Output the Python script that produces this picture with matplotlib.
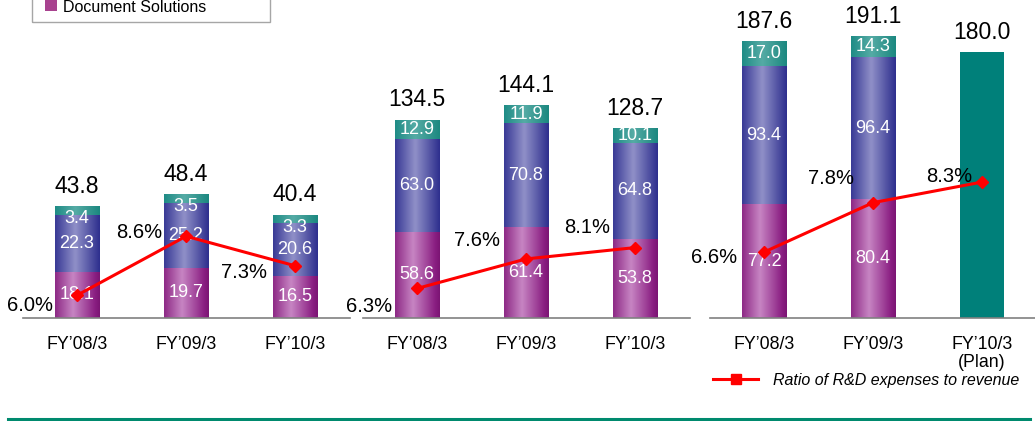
import numpy as np
import matplotlib
matplotlib.use("Agg")
import matplotlib.pyplot as plt
from matplotlib.colors import LinearSegmentedColormap
from matplotlib.patches import Rectangle
from matplotlib.lines import Line2D

plt.rcParams['font.family'] = ['Liberation Sans', 'DejaVu Sans']

W, H = 1035, 421

# data
years = ['FY’08/3', 'FY’09/3', 'FY’10/3']
years_plan = ['FY’08/3', 'FY’09/3', 'FY’10/3\n(Plan)']

p1_doc = [18.1, 19.7, 16.5]
p1_mid = [22.3, 25.2, 20.6]
p1_top = [3.4, 3.5, 3.3]
p1_total = [43.8, 48.4, 40.4]
p1_ratio = [6.0, 8.6, 7.3]

p2_doc = [58.6, 61.4, 53.8]
p2_mid = [63.0, 70.8, 64.8]
p2_top = [12.9, 11.9, 10.1]
p2_total = [134.5, 144.1, 128.7]
p2_ratio = [6.3, 7.6, 8.1]

p3_doc = [77.2, 80.4]
p3_mid = [93.4, 96.4]
p3_top = [17.0, 14.3]
p3_plan = [180.0]
p3_total = [187.6, 191.1, 180.0]
p3_ratio = [6.6, 7.8, 8.3]

# gradient colours of the bars
cm_doc = LinearSegmentedColormap.from_list('doc', [(0, '#8E2A86'), (0.4, '#C785C3'), (0.9, '#8A1E82'), (1, '#7C1574')])
cm_mid = LinearSegmentedColormap.from_list('mid', [(0, '#393A96'), (0.45, '#9090C8'), (1, '#2E2F8E')])
cm_top = LinearSegmentedColormap.from_list('top', [(0, '#1F8C86'), (0.45, '#55ABA5'), (1, '#1C8880')])


def fx(x):
    return x / W


def fy(y):
    return 1 - y / H


def grad_bars(ax, bars, cmap):
    g = np.linspace(0, 1, 64).reshape(1, -1)
    for b in bars:
        x0, y0 = b.get_x(), b.get_y()
        w, h = b.get_width(), b.get_height()
        im = ax.imshow(g, cmap=cmap, extent=(x0, x0 + w, y0, y0 + h), aspect='auto',
                       interpolation='bicubic', zorder=2)
        im.set_clip_path(b)


fig = plt.figure(figsize=(W / 100, H / 100), dpi=100)

base = 318   # baseline pixel row
width = 0.41

panels = [
    dict(left=22.5, ylim=124.2, rlim=(5, 19), labels=years, doc=p1_doc, mid=p1_mid, top=p1_top,
         total=p1_total, ratio=p1_ratio, off=[(-24, -10), (-24, 4), (-28, -7)], topshift=-6),
    dict(left=362.5, ylim=215.5, rlim=(5, 19), labels=years, doc=p2_doc, mid=p2_mid, top=p2_top,
         total=p2_total, ratio=p2_ratio, off=[(-25, -18), (-26, 18), (-25, 20)], topshift=0),
    dict(left=709.5, ylim=215.5, rlim=(5, 12.72), labels=years_plan, doc=p3_doc, mid=p3_mid, top=p3_top,
         total=p3_total, ratio=p3_ratio, off=[(-27, -5), (-19, 24), (-10, 6)], topshift=0),
]

for p in panels:
    ax = fig.add_axes([fx(p['left']), fy(base), 327 / W, base / H])
    ax.patch.set_alpha(0)
    n = len(p['doc'])
    x = np.arange(n)
    doc = np.array(p['doc'])
    mid = np.array(p['mid'])
    top = np.array(p['top'])

    b1 = ax.bar(x, doc, width, color='#A0409A', zorder=2, linewidth=0)
    b2 = ax.bar(x, mid, width, bottom=doc, color='#5A5AAA', zorder=2, linewidth=0)
    b3 = ax.bar(x, top, width, bottom=doc + mid, color='#2A9A90', zorder=2, linewidth=0)
    grad_bars(ax, b1, cm_doc)
    grad_bars(ax, b2, cm_mid)
    grad_bars(ax, b3, cm_top)

    if p['labels'] is years_plan:
        ax.bar([2], p3_plan, width, color='#00807A', zorder=2, linewidth=0)

    for i in range(n):
        ax.text(x[i], doc[i] / 2, f'{doc[i]:.1f}', ha='center', va='center', color='white', fontsize=13, zorder=4)
        ax.text(x[i], doc[i] + mid[i] / 2, f'{mid[i]:.1f}', ha='center', va='center', color='white', fontsize=13, zorder=4)
        ax.annotate(f'{top[i]:.1f}', xy=(x[i], doc[i] + mid[i] + top[i] / 2), xytext=(0, p['topshift']),
                    textcoords='offset points', ha='center', va='center', color='white', fontsize=13, zorder=4)

    for i, t in enumerate(p['total']):
        ax.annotate(f'{t:.1f}', xy=(i, t), xytext=(0, 6), textcoords='offset points',
                    ha='center', va='bottom', fontsize=16.5)

    ax.set_xlim(-0.5, 2.5)
    ax.set_ylim(0, p['ylim'])
    ax.set_xticks([0, 1, 2])
    ax.set_xticklabels(p['labels'], fontsize=12.8, linespacing=1.05)
    ax.tick_params(axis='x', length=0, pad=13)
    ax.set_yticks([])
    for s in ['top', 'left', 'right']:
        ax.spines[s].set_visible(False)
    ax.spines['bottom'].set_color('#808080')
    ax.spines['bottom'].set_linewidth(1.2)

    ax2 = ax.twinx()
    ax2.plot([0, 1, 2], p['ratio'], color='#FF0000', lw=2.2, marker='D', markersize=6.5, zorder=5)
    for i, r in enumerate(p['ratio']):
        dx, dy = p['off'][i]
        ax2.annotate(f'{r:.1f}%', xy=(i, r), xytext=(dx * 0.72, dy * 0.72), textcoords='offset points',
                     ha='right', va='center', fontsize=14.5)
    ax2.set_ylim(*p['rlim'])
    ax2.set_xlim(-0.5, 2.5)
    ax2.set_yticks([])
    for s in ax2.spines.values():
        s.set_visible(False)

# partial legend box at the top
fig.add_artist(Rectangle((fx(32), fy(22)), (270 - 32) / W, 40 / H, transform=fig.transFigure,
                         fill=False, ec='#A6A6A6', lw=1))
fig.add_artist(Rectangle((fx(45), fy(11)), 12 / W, 12 / H, transform=fig.transFigure,
                         fc='#A8428F', ec='none'))
fig.text(fx(63), fy(7), 'Document Solutions', fontsize=11.5, va='center', ha='left')

# line legend at the bottom right
fig.add_artist(Line2D([fx(713), fx(758)], [fy(379), fy(379)], transform=fig.transFigure,
                      color='#FF0000', lw=2.2))
fig.add_artist(Line2D([fx(735.5)], [fy(379)], transform=fig.transFigure, color='#FF0000',
                      marker='s', markersize=7, lw=0))
fig.text(fx(773), fy(380), 'Ratio of R&D expenses to revenue', fontsize=11.5, style='italic',
         va='center', ha='left')

# green rule at the bottom
fig.add_artist(Line2D([fx(8), fx(1030)], [fy(419), fy(419)], transform=fig.transFigure,
                      color='#008A6E', lw=2.2))

fig.savefig('out.png', dpi=100)
